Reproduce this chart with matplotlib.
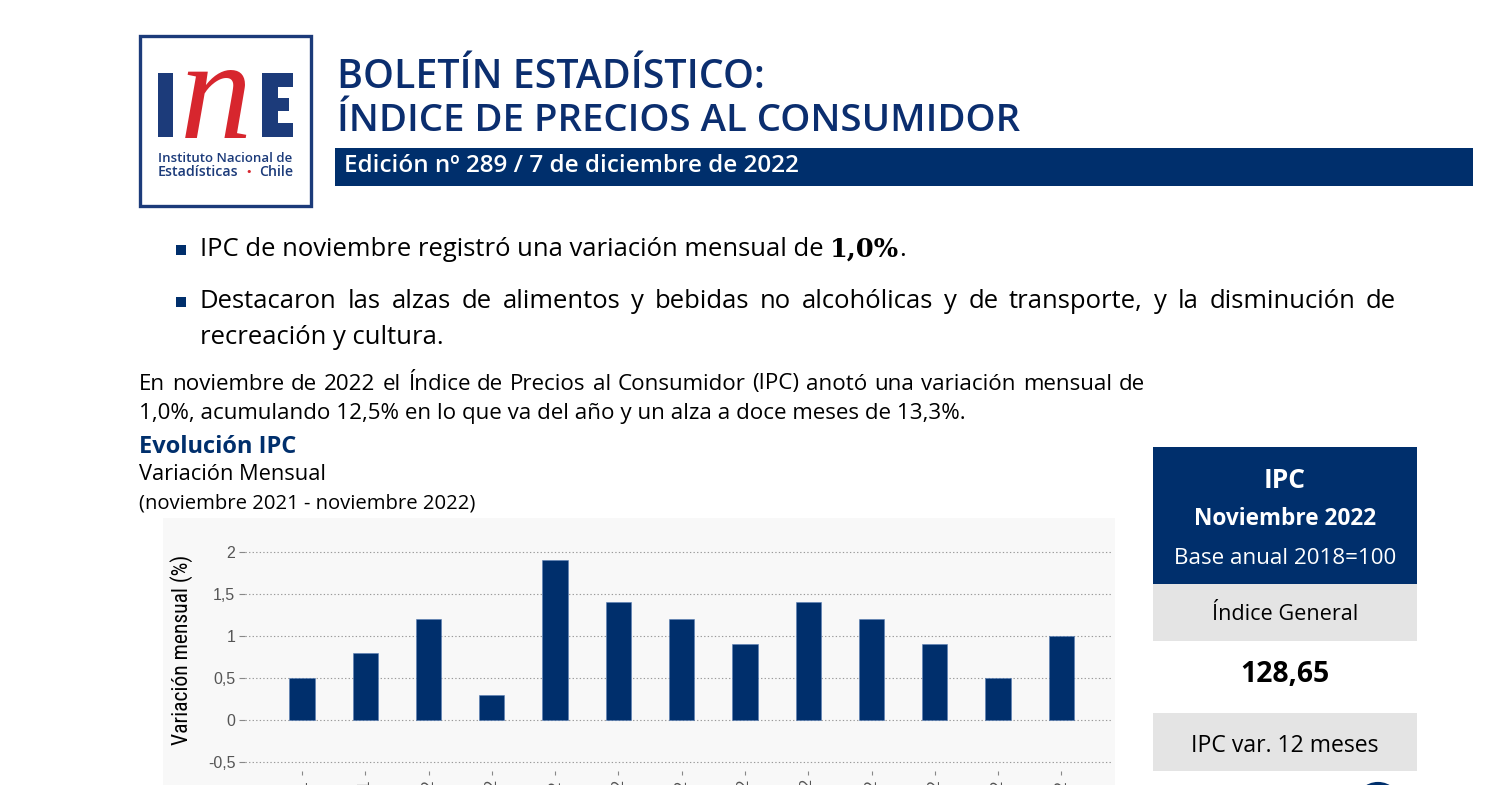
import matplotlib
matplotlib.use("Agg")
import matplotlib.pyplot as plt
from matplotlib import font_manager as fm
from matplotlib.patches import Rectangle, Circle

# ---------------- data ----------------
months = ['nov-21', 'dic-21', 'ene-22', 'feb-22', 'mar-22', 'abr-22', 'may-22',
          'jun-22', 'jul-22', 'ago-22', 'sep-22', 'oct-22', 'nov-22']
var_mensual = [0.5, 0.8, 1.2, 0.3, 1.9, 1.4, 1.2, 0.9, 1.4, 1.2, 0.9, 0.5, 1.0]
yticks = [-0.5, 0, 0.5, 1, 1.5, 2]
ytick_labels = ['-0,5', '0', '0,5', '1', '1,5', '2']

title_lines = ['BOLETÍN ESTADÍSTICO:', 'ÍNDICE DE PRECIOS AL CONSUMIDOR']
edition = 'Edición nº 289 / 7 de diciembre de 2022'
bullet1 = 'IPC de noviembre registró una variación mensual de'
bullet1_bold = '1,0%'
bullet2 = ['Destacaron las alzas de alimentos y bebidas no alcohólicas y de transporte, y la disminución de',
           'recreación y cultura.']
paragraph = ['En noviembre de 2022 el Índice de Precios al Consumidor (IPC) anotó una variación mensual de',
             '1,0%, acumulando 12,5% en lo que va del año y un alza a doce meses de 13,3%.']
chart_titles = ['Evolución IPC', 'Variación Mensual', '(noviembre 2021 - noviembre 2022)']
ylabel = 'Variación mensual (%)'
box_head = ['IPC', 'Noviembre 2022', 'Base anual 2018=100']
box_index_label = 'Índice General'
box_index_value = '128,65'
box_var_label = 'IPC var. 12 meses'

BLUE = '#002F6C'
LOGO_BLUE = '#1C3B7A'
RED = '#D7262E'
GREY_BOX = '#E4E4E4'
BODY = 'Open Sans'

names = sorted({f.name for f in fm.fontManager.ttflist})
NARROW = None
for cand in ['Liberation Sans Narrow', 'Arial Narrow', 'Roboto Condensed', 'Open Sans Condensed',
             'Noto Sans Condensed', 'DejaVu Sans Condensed']:
    if cand in names:
        NARROW = cand
        break

W, H = 1500, 785
fig = plt.figure(figsize=(15, 7.85), dpi=100)
bg = fig.add_axes([0, 0, 1, 1])
bg.set_xlim(0, W)
bg.set_ylim(H, 0)
bg.axis('off')
R = fig.canvas.get_renderer()


def width_of(t):
    return t.get_window_extent(R).width


def fit_text(x, y, s, width, ha='left', **kw):
    kw.setdefault('fontsize', 12)
    t = bg.text(x, y, s, ha=ha, va='center', **kw)
    t.set_fontsize(t.get_fontsize() * width / width_of(t))
    return t


def size_for(s, width, **kw):
    t = bg.text(0, 0, s, fontsize=10, **kw)
    w = width_of(t)
    t.remove()
    return 10 * width / w


def justify(x0, x1, y, line, **kw):
    words = line.split()
    ts = [bg.text(0, y, w, ha='left', va='center', **kw) for w in words]
    ws = [width_of(t) for t in ts]
    gap = (x1 - x0 - sum(ws)) / (len(words) - 1)
    x = x0
    for t, w in zip(ts, ws):
        t.set_x(x)
        x += w + gap


def space_width(**kw):
    a = bg.text(0, 0, 'x x', **kw)
    b = bg.text(0, 0, 'xx', **kw)
    s = width_of(a) - width_of(b)
    a.remove()
    b.remove()
    return s


# ---------------- logo ----------------
bg.add_patch(Rectangle((140, 36), 171, 170, fill=False, ec=LOGO_BLUE, lw=2.4))
bg.add_patch(Rectangle((158, 73), 15, 64, color=LOGO_BLUE, lw=0))
bg.add_patch(Rectangle((262, 73), 16, 64, color=LOGO_BLUE, lw=0))
bg.add_patch(Rectangle((262, 73), 31, 14, color=LOGO_BLUE, lw=0))
bg.add_patch(Rectangle((262, 98), 27, 13, color=LOGO_BLUE, lw=0))
bg.add_patch(Rectangle((262, 123), 31, 14, color=LOGO_BLUE, lw=0))
bg.text(216, 138, 'n', color=RED, fontsize=104, family='Liberation Serif',
        style='italic', ha='center', va='baseline')
fit_text(225, 158, 'Instituto Nacional de', 134, ha='center', color=LOGO_BLUE,
         family='Open Sans', weight='semibold', fontsize=9)
t1 = fit_text(158, 172, 'Estadísticas', 80, color=LOGO_BLUE,
              family='Open Sans', weight='semibold', fontsize=9)
bg.text(249, 172, '•', color=RED, fontsize=8, ha='center', va='center')
bg.text(293, 172, 'Chile', color=LOGO_BLUE, family='Open Sans', weight='semibold',
        fontsize=t1.get_fontsize(), ha='right', va='center')

# ---------------- header ----------------
fit_text(337, 78, title_lines[0], 426, color='#0B2E6F', family='Open Sans', weight='semibold')
fit_text(337, 121, title_lines[1], 685, color='#0B2E6F', family='Open Sans', weight='semibold')
bg.add_patch(Rectangle((335, 148), 1138, 38, color=BLUE, lw=0))
fit_text(344, 166, edition, 455, color='white', family='Open Sans', weight='semibold')

# ---------------- bullets ----------------
for yb in (250, 302):
    bg.add_patch(Rectangle((176, yb - 5), 10, 10, color=BLUE, lw=0))
w_plain = size_for(bullet1 + ' ', 100, family=BODY)
w_bold = size_for(bullet1_bold + '.', 100, family='DejaVu Serif', weight='bold')
BFS = 1.0 / (1.0 / w_plain + 1.0 / w_bold) * 707 / 100
t = bg.text(200, 249, bullet1, ha='left', va='center', family=BODY, fontsize=BFS)
sp = space_width(family=BODY, fontsize=BFS)
x = 200 + width_of(t) + sp
tb = bg.text(x, 249, bullet1_bold, ha='left', va='center', family='DejaVu Serif',
             weight='bold', fontsize=BFS)
x += width_of(tb)
bg.text(x, 249, '.', ha='left', va='center', family=BODY, fontsize=BFS)
justify(200, 1396, 302, bullet2[0], family=BODY, fontsize=BFS)
bg.text(200, 337, bullet2[1], ha='left', va='center', family=BODY, fontsize=BFS)

# ---------------- paragraph ----------------
PFS = size_for(paragraph[1], 829, family=BODY)
justify(139, 1145, 384, paragraph[0], family=BODY, fontsize=PFS)
bg.text(139, 413, paragraph[1], ha='left', va='center', family=BODY, fontsize=PFS)

fit_text(139, 447, chart_titles[0], 157, family=BODY, weight='bold', color=BLUE)
fit_text(139, 475, chart_titles[1], 186, family=BODY)
fit_text(139, 503, chart_titles[2], 335, family=BODY)

# ---------------- chart ----------------
bg.add_patch(Rectangle((163, 518), 952, 280, color='#F8F8F8', lw=0))


def px_axes(x0, y0, x1, y1):
    return fig.add_axes([x0 / W, 1 - y1 / H, (x1 - x0) / W, (y1 - y0) / H])


ax = px_axes(245, 530, 1112, 771)
ax.set_facecolor('none')
xs = list(range(len(months)))
ax.bar(xs, var_mensual, width=0.4, color=BLUE, edgecolor='#5A7FB5', linewidth=0.4, zorder=3)
ax.set_xlim(-0.9, 12.8)
ax.set_ylim(-(771 - 720) / 84, (720 - 530) / 84)
ax.set_yticks(yticks)
ax.set_yticklabels(ytick_labels, family='Liberation Sans', fontsize=11.5, color='#555555')
ax.set_xticks(xs)
ax.set_xticklabels(months, rotation=90, family='Liberation Sans', fontsize=11.5,
                   color='#555555', va='top')
ax.tick_params(axis='x', length=3, width=0.8, color='#888888', pad=3)
ax.tick_params(axis='y', length=4, width=0.8, color='#888888', pad=3)
ax.grid(axis='y', color='#9A9A9A', linestyle=(0, (1.2, 2)), linewidth=0.8, zorder=0)
for s in ax.spines.values():
    s.set_visible(False)
ylt = bg.text(182, 650, ylabel, rotation=90, ha='center', va='center',
              family=NARROW if NARROW else 'Liberation Sans', fontsize=12)
ylt.set_fontsize(12 * 190 / ylt.get_window_extent(R).height)

# ---------------- side box ----------------
bg.add_patch(Rectangle((1153, 447), 264, 137, color=BLUE, lw=0))
fit_text(1285, 480, box_head[0], 42, ha='center', color='white', family=BODY, weight='bold')
fit_text(1285, 519, box_head[1], 181, ha='center', color='white', family=BODY, weight='bold')
fit_text(1285, 558, box_head[2], 222, ha='center', color='white', family=BODY)
bg.add_patch(Rectangle((1153, 584), 264, 57, color=GREY_BOX, lw=0))
fit_text(1285, 615, box_index_label, 145, ha='center', family=BODY)
fit_text(1285, 674, box_index_value, 89, ha='center', family=BODY, weight='bold')
bg.add_patch(Rectangle((1153, 713), 264, 58, color=GREY_BOX, lw=0))
fit_text(1285, 746, box_var_label, 187, ha='center', family=BODY)
bg.add_patch(Circle((1378, 805), 21, fill=False, ec=BLUE, lw=3))

fig.savefig('out.png', dpi=100)
